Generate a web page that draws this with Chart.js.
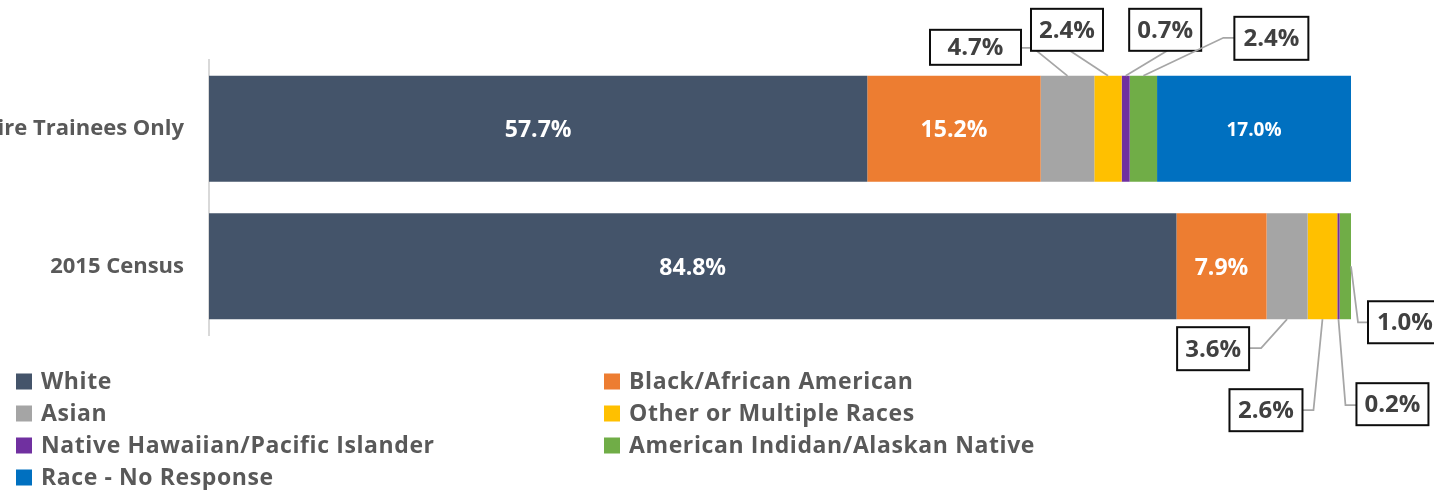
<!DOCTYPE html>
<html><head><meta charset="utf-8">
<script src="https://cdn.jsdelivr.net/npm/chart.js@4.4.0/dist/chart.umd.min.js"></script>
<style>
html,body{margin:0;padding:0;background:#fff;overflow:hidden;width:1434px;height:490px;position:relative;}
#wrap{position:absolute;left:-120px;top:0;width:1554px;height:490px;}
canvas{display:block;}
</style></head><body>
<div id="wrap"><canvas id="c" width="1554" height="490"></canvas></div>
<script>
// ---- data ----
const categories = ["New Hire Trainees Only", "2015 Census"];
const seriesNames = ["White", "Black/African American", "Asian", "Other or Multiple Races",
  "Native Hawaiian/Pacific Islander", "American Indidan/Alaskan Native", "Race - No Response"];
const white = [57.7, 84.8];
const black = [15.2, 7.9];
const asian = [4.7, 3.6];
const other = [2.4, 2.6];
const nhpi = [0.7, 0.2];
const aian = [2.4, 1.0];
const noResponse = [17.0, null];
const colors = ["#44546A", "#ED7D31", "#A5A5A5", "#FFC000", "#7030A0", "#70AD47", "#0070C0"];

// ---- layout / styling ----
const OFF = 120;            // canvas is shifted left; the long label is clipped like the original
const FONT = "'Open Sans', 'Liberation Sans', sans-serif";
const insideSeries = [0, 1, 6];
const callouts = [
  {series:2,row:0,side:'top',box:[-92,-28.5,91,35],path:[[-34.5,-28],[-46.5,-28]]},
  {series:3,row:0,side:'top',box:[-41,-46,72,42],path:[[-38,-25]]},
  {series:4,row:0,side:'top',box:[39.5,-46,72,42],path:[[41.5,-25]]},
  {series:5,row:0,side:'top',box:[128,-37.5,74,43],path:[[80,-38],[91,-38]]},
  {series:2,row:1,side:'bottom',box:[-74,29.5,72,43],path:[[-26,29],[-38,29]]},
  {series:3,row:1,side:'bottom',box:[-56.5,91,73,42],path:[[-9,91],[-20,91]]},
  {series:4,row:1,side:'bottom',box:[54,85,72,42],path:[[7,86],[18,86]]},
  {series:5,row:1,side:'right',box:[54,56,74,42],path:[[7,56],[17,56]]}
];

const allSeries = [white, black, asian, other, nhpi, aian, noResponse];
const datasets = allSeries.map((d, i) => ({
  label: seriesNames[i], data: d, backgroundColor: colors[i], borderWidth: 0,
  barPercentage: 0.77, categoryPercentage: 1.0
}));
const total = Math.max(...categories.map((_, r) => allSeries.reduce((s, d) => s + (d[r] || 0), 0)));

const labelsPlugin = {
  id: 'labels',
  afterDatasetsDraw(chart) {
    const ctx = chart.ctx;
    ctx.save();
    ctx.textAlign = 'center'; ctx.textBaseline = 'middle';
    // inside labels
    insideSeries.forEach(si => {
      const meta = chart.getDatasetMeta(si);
      meta.data.forEach((el, r) => {
        const v = allSeries[si][r];
        if (v == null) return;
        ctx.fillStyle = '#ffffff';
        ctx.font = 'bold ' + (si === 6 ? 19 : 23) + 'px ' + FONT;
        ctx.fillText(v.toFixed(1) + '%', (el.x + el.base) / 2, el.y + 2);
      });
    });
    // callouts
    callouts.forEach(c => {
      const el = chart.getDatasetMeta(c.series).data[c.row];
      const v = allSeries[c.series][c.row];
      let ax, ay;
      if (c.side === 'right') { ax = el.x; ay = el.y; }
      else { ax = (el.x + el.base) / 2; ay = c.side === 'top' ? el.y - el.height / 2 : el.y + el.height / 2; }
      ctx.strokeStyle = '#A6A6A6'; ctx.lineWidth = 1.75;
      ctx.beginPath(); ctx.moveTo(ax, ay);
      c.path.forEach(p => ctx.lineTo(ax + p[0], ay + p[1]));
      ctx.stroke();
      const [dx, dy, w, h] = c.box;
      const x0 = ax + dx - w / 2, y0 = ay + dy - h / 2;
      ctx.fillStyle = '#ffffff'; ctx.fillRect(x0, y0, w, h);
      ctx.strokeStyle = '#0d0d0d'; ctx.lineWidth = 2; ctx.strokeRect(x0, y0, w, h);
      ctx.fillStyle = '#404040'; ctx.font = 'bold 24px ' + FONT;
      ctx.fillText(v.toFixed(1) + '%', ax + dx, ay + dy + 1);
    });
    ctx.restore();
  }
};

const legendPlugin = {
  id: 'colLegend',
  afterDraw(chart) {
    const ctx = chart.ctx;
    ctx.save();
    const colX = [16 + OFF, 604 + OFF], rowY = [381.5, 413.5, 445.5, 477.5], box = 16;
    ctx.font = 'bold 23px ' + FONT; ctx.textBaseline = 'middle'; ctx.textAlign = 'left';
    ctx.letterSpacing = '0.6px';
    seriesNames.forEach((n, i) => {
      const x = colX[i % 2], y = rowY[Math.floor(i / 2)];
      ctx.fillStyle = colors[i];
      ctx.fillRect(x, y - box / 2, box, box);
      ctx.fillStyle = '#595959';
      ctx.fillText(n, x + 25, y + 1);
    });
    ctx.restore();
  }
};

new Chart(document.getElementById('c'), {
  type: 'bar',
  data: { labels: categories, datasets },
  options: {
    indexAxis: 'y', responsive: false, animation: false,
    layout: { padding: { top: 60, bottom: 155, right: 83, left: 0 } },
    plugins: { legend: { display: false }, tooltip: { enabled: false } },
    scales: {
      x: { stacked: true, min: 0, max: total, display: false },
      y: {
        stacked: true,
        grid: { display: false, drawTicks: false },
        border: { display: true, color: '#D9D9D9', width: 2 },
        ticks: { padding: 25, color: '#595959', font: { family: FONT, size: 22, weight: 'bold' } },
        afterFit(scale) { scale.width = 209 + OFF; }
      }
    }
  },
  plugins: [labelsPlugin, legendPlugin]
});
</script>
</body></html>
